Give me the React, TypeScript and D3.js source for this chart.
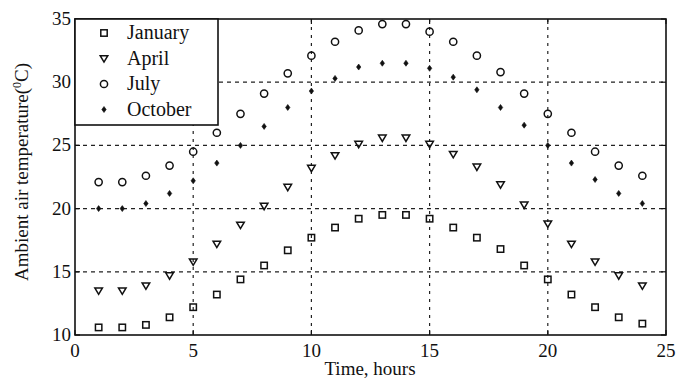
import React from "react";
import * as d3 from "d3";

const hours = [1,2,3,4,5,6,7,8,9,10,11,12,13,14,15,16,17,18,19,20,21,22,23,24];
const january = [10.6,10.6,10.8,11.4,12.2,13.2,14.4,15.5,16.7,17.7,18.5,19.2,19.5,19.5,19.2,18.5,17.7,16.8,15.5,14.4,13.2,12.2,11.4,10.9];
const april = [13.5,13.5,13.9,14.7,15.8,17.2,18.7,20.2,21.7,23.2,24.2,25.1,25.6,25.6,25.1,24.3,23.3,21.9,20.3,18.8,17.2,15.8,14.7,13.9];
const july = [22.1,22.1,22.6,23.4,24.5,26.0,27.5,29.1,30.7,32.1,33.2,34.1,34.6,34.6,34.0,33.2,32.1,30.8,29.1,27.5,26.0,24.5,23.4,22.6];
const october = [20.0,20.0,20.4,21.2,22.2,23.6,25.0,26.5,28.0,29.3,30.3,31.2,31.5,31.5,31.1,30.4,29.4,28.0,26.6,25.0,23.6,22.3,21.2,20.4];
const xTicks = [0,5,10,15,20,25];
const yTicks = [10,15,20,25,30,35];
const legendNames = ["January","April","July","October"];

const W = 677, H = 379;
const L = 75, R = 666, T = 19, B = 335;

function Marker({ kind, x, y }: { kind: string; x: number; y: number }) {
  const s = "#111";
  if (kind === "January") return <rect x={x - 3.2} y={y - 3.2} width={6.4} height={6.4} fill="none" stroke={s} strokeWidth={1.5} />;
  if (kind === "April") return <path d={`M${x - 3.8},${y - 2.8} L${x + 3.8},${y - 2.8} L${x},${y + 3.6} Z`} fill="none" stroke={s} strokeWidth={1.5} />;
  if (kind === "July") return <circle cx={x} cy={y} r={3.6} fill="none" stroke={s} strokeWidth={1.5} />;
  return <path d={`M${x},${y - 3} L${x + 2.2},${y} L${x},${y + 3} L${x - 2.2},${y} Z`} fill={s} stroke={s} strokeWidth={0.6} />;
}

export default function App() {
  const x = d3.scaleLinear().domain([0, 25]).range([L, R]);
  const y = d3.scaleLinear().domain([10, 35]).range([B, T]);
  const series: [string, number[]][] = [["January", january], ["April", april], ["July", july], ["October", october]];
  const font = "'Liberation Serif', 'Times New Roman', serif";
  return (
    <svg width={W} height={H} style={{ position: "absolute", left: 0, top: 0, background: "#fff" }} fontFamily={font}>
      <rect x={0} y={0} width={W} height={H} fill="#fff" />
      {xTicks.slice(1, -1).map(t => (
        <line key={"gx" + t} x1={x(t)} x2={x(t)} y1={T} y2={B} stroke="#222" strokeWidth={1.2} strokeDasharray="3,5" />
      ))}
      {yTicks.slice(1, -1).map(t => (
        <line key={"gy" + t} x1={L} x2={R} y1={y(t)} y2={y(t)} stroke="#222" strokeWidth={1.2} strokeDasharray="4,4" />
      ))}
      <rect x={L} y={T} width={R - L} height={B - T} fill="none" stroke="#111" strokeWidth={1.6} />
      {xTicks.map(t => (
        <g key={"tx" + t}>
          <line x1={x(t)} x2={x(t)} y1={B} y2={B - 5} stroke="#111" strokeWidth={1.2} />
          <line x1={x(t)} x2={x(t)} y1={T} y2={T + 5} stroke="#111" strokeWidth={1.2} />
          <text x={x(t)} y={B + 22} textAnchor="middle" fontSize={19} fill="#111">{t}</text>
        </g>
      ))}
      {yTicks.map(t => (
        <g key={"ty" + t}>
          <line x1={L} x2={L + 5} y1={y(t)} y2={y(t)} stroke="#111" strokeWidth={1.2} />
          <line x1={R} x2={R - 5} y1={y(t)} y2={y(t)} stroke="#111" strokeWidth={1.2} />
          <text x={L - 4} y={y(t) + 6} textAnchor="end" fontSize={19} fill="#111">{t}</text>
        </g>
      ))}
      {series.map(([name, vals]) => (
        <g key={name}>
          {vals.map((v, i) => <Marker key={i} kind={name} x={x(hours[i])} y={y(v)} />)}
        </g>
      ))}
      <rect x={L} y={T} width={143} height={106} fill="#fff" stroke="#111" strokeWidth={1.6} />
      {legendNames.map((n, i) => (
        <g key={n}>
          <Marker kind={n} x={104} y={33 + i * 25.5} />
          <text x={127} y={33 + i * 25.5 + 6} fontSize={20} fill="#111">{n}</text>
        </g>
      ))}
      <text x={370} y={375} textAnchor="middle" fontSize={19} fill="#111">Time, hours</text>
      <text transform={`translate(28,172) rotate(-90)`} textAnchor="middle" fontSize={19} fill="#111">
        Ambient air temperature(<tspan dy={-7} fontSize={12}>0</tspan><tspan dy={7}>C)</tspan>
      </text>
    </svg>
  );
}
